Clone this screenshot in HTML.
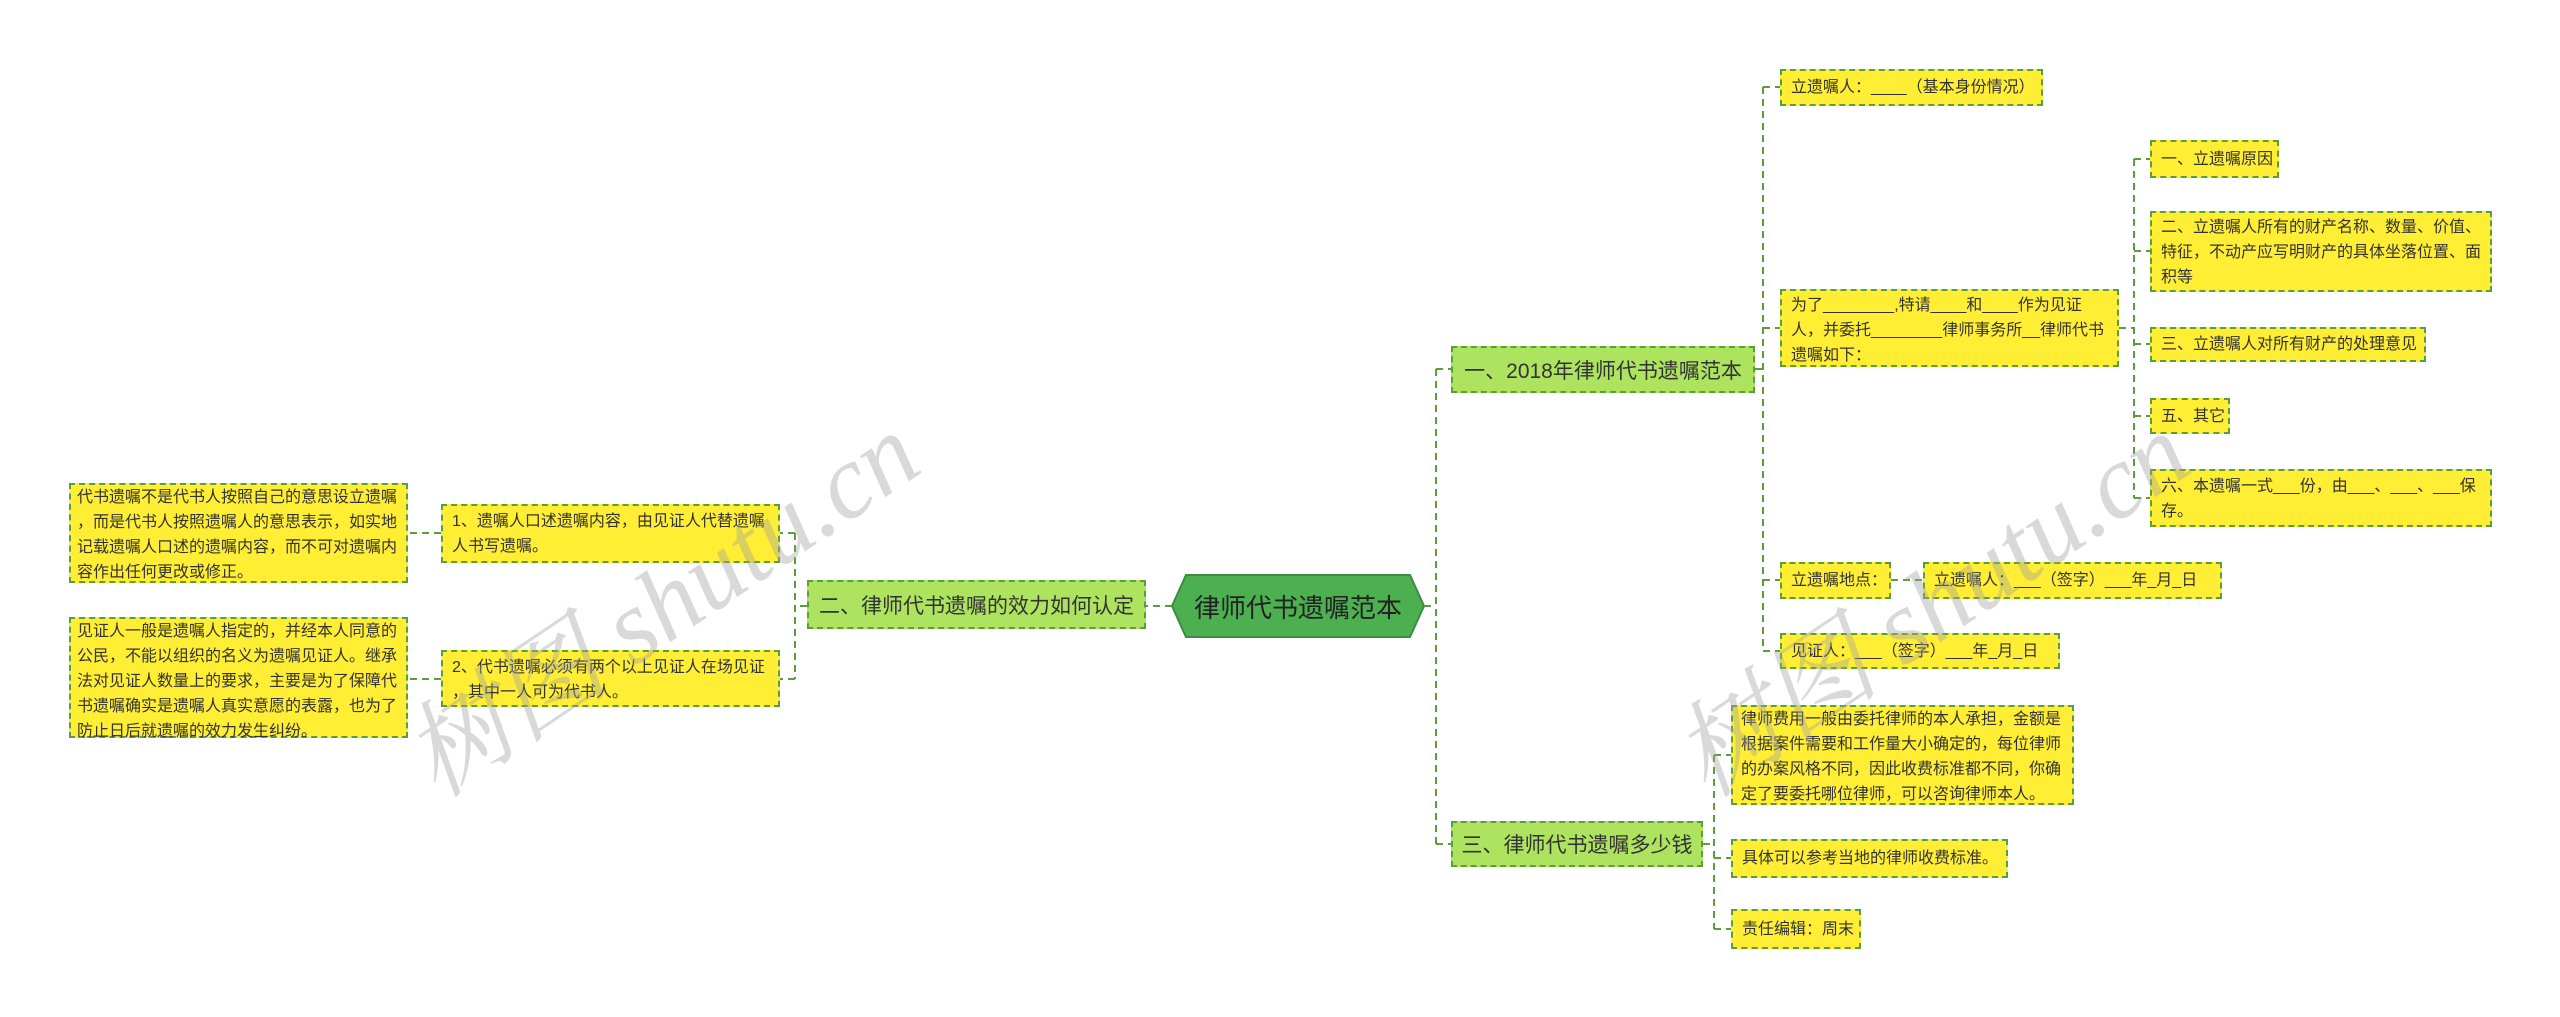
<!DOCTYPE html>
<html><head><meta charset="utf-8"><style>
body{margin:0;width:2560px;height:1017px;background:#fff;position:relative;overflow:hidden;font-family:"Liberation Sans","Noto Sans CJK SC",sans-serif;}
.b{position:absolute;box-sizing:border-box;background:#ffee33;border:2px dashed #5b9e3c;color:#333;font-size:16px;line-height:25px;padding:6px 9px;line-break:anywhere;}
.br{position:absolute;box-sizing:border-box;background:#ade35f;border:2px dashed #5b9e3c;color:#333;font-size:21px;display:flex;align-items:center;justify-content:center;white-space:nowrap;}
.s{display:flex;align-items:center;white-space:nowrap;}
svg{position:absolute;left:0;top:0;}
.wm{position:absolute;color:rgba(160,160,160,0.4);font-size:105px;font-family:"Liberation Serif","Noto Serif CJK SC",serif;font-style:italic;white-space:nowrap;transform:rotate(-34deg);transform-origin:left top;}
</style></head><body>
<svg width="2560" height="1017">
<g stroke="#5b9e3c" stroke-width="2" stroke-dasharray="7,5" fill="none">
<path d="M1172 606H1146"/>
<path d="M1424 606H1436M1436 369V844M1436 369H1451M1436 844H1451"/>
<path d="M807 606H795M795 533V679M795 533H780M795 679H780"/>
<path d="M441 533H408M441 679H408"/>
<path d="M1755 369H1763M1763 87V651M1763 87H1780M1763 328H1780M1763 580H1780M1763 651H1780"/>
<path d="M1891 580H1923"/>
<path d="M2119 328H2134M2134 159V498M2134 159H2150M2134 251H2150M2134 344H2150M2134 416H2150M2134 498H2150"/>
<path d="M1703 844H1714M1714 755V929M1714 755H1731M1714 858H1731M1714 929H1731"/>
</g>
</svg>
<svg width="2560" height="1017"><polygon points="1186,575 1410,575 1424,606 1410,637 1186,637 1172,606" fill="#4caf50" stroke="#3d8b40" stroke-width="2"/></svg>
<div style="position:absolute;left:1172px;top:575px;width:252px;height:62px;display:flex;align-items:center;justify-content:center;font-size:26px;color:#222;">律师代书遗嘱范本</div>

<div class="br" style="left:807px;top:580px;width:339px;height:49px;">二、律师代书遗嘱的效力如何认定</div>
<div class="br" style="left:1451px;top:346px;width:304px;height:47px;">一、2018年律师代书遗嘱范本</div>
<div class="br" style="left:1451px;top:821px;width:252px;height:46px;">三、律师代书遗嘱多少钱</div>

<div class="b" style="left:441px;top:504px;width:339px;height:59px;padding:3px 9px;">1、遗嘱人口述遗嘱内容，由见证人代替遗嘱人书写遗嘱。</div>
<div class="b" style="left:441px;top:650px;width:339px;height:57px;padding:3px 9px;">2、代书遗嘱必须有两个以上见证人在场见证，其中一人可为代书人。</div>
<div class="b" style="left:69px;top:483px;width:339px;height:100px;padding:0 6px;">代书遗嘱不是代书人按照自己的意思设立遗嘱，而是代书人按照遗嘱人的意思表示，如实地记载遗嘱人口述的遗嘱内容，而不可对遗嘱内容作出任何更改或修正。</div>
<div class="b" style="left:69px;top:617px;width:339px;height:121px;padding:0 6px;">见证人一般是遗嘱人指定的，并经本人同意的公民，不能以组织的名义为遗嘱见证人。继承法对见证人数量上的要求，主要是为了保障代书遗嘱确实是遗嘱人真实意愿的表露，也为了防止日后就遗嘱的效力发生纠纷。</div>

<div class="b s" style="left:1780px;top:69px;width:263px;height:37px;">立遗嘱人：____（基本身份情况）</div>
<div class="b" style="left:1780px;top:289px;width:339px;height:78px;padding:2px 9px;line-break:auto;">为了________,特请____和____作为见证人，并委托________律师事务所__律师代书遗嘱如下：</div>
<div class="b s" style="left:1780px;top:562px;width:111px;height:37px;">立遗嘱地点：</div>
<div class="b s" style="left:1923px;top:562px;width:299px;height:37px;">立遗嘱人：___（签字）___年_月_日</div>
<div class="b s" style="left:1780px;top:633px;width:280px;height:36px;">见证人：___（签字）___年_月_日</div>

<div class="b s" style="left:2150px;top:140px;width:129px;height:38px;">一、立遗嘱原因</div>
<div class="b" style="left:2150px;top:211px;width:342px;height:81px;padding:2px 9px;">二、立遗嘱人所有的财产名称、数量、价值、特征，不动产应写明财产的具体坐落位置、面积等</div>
<div class="b s" style="left:2150px;top:327px;width:276px;height:35px;">三、立遗嘱人对所有财产的处理意见</div>
<div class="b s" style="left:2150px;top:398px;width:80px;height:36px;">五、其它</div>
<div class="b" style="left:2150px;top:469px;width:342px;height:58px;padding:3px 9px;">六、本遗嘱一式___份，由___、___、___保存。</div>

<div class="b" style="left:1731px;top:705px;width:343px;height:100px;padding:0 8px;">律师费用一般由委托律师的本人承担，金额是根据案件需要和工作量大小确定的，每位律师的办案风格不同，因此收费标准都不同，你确定了要委托哪位律师，可以咨询律师本人。</div>
<div class="b s" style="left:1731px;top:839px;width:277px;height:39px;">具体可以参考当地的律师收费标准。</div>
<div class="b s" style="left:1731px;top:909px;width:130px;height:40px;">责任编辑：周末</div>

<div class="wm" style="left:370px;top:700px;">树图 shutu.cn</div>
<div class="wm" style="left:1640px;top:700px;">树图 shutu.cn</div>
</body></html>
